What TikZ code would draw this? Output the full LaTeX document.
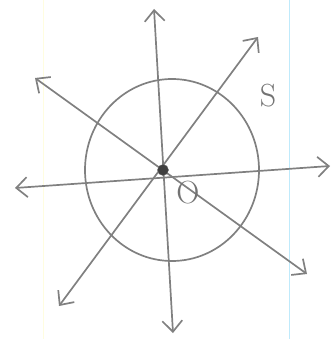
\documentclass[tikz,border=0pt]{standalone}
\usetikzlibrary{arrows.meta,positioning}
\tikzset{
    sketch/.style   = {x=1pt, y=-1pt, >={Straight Barb[length=11pt, width=20pt]}},
    pencil/.style   = {draw=black!50, line width=1.7pt, line cap=round},
    ray/.style      = {pencil, <->},
    origin/.style   = {circle, fill=black!75, draw=black!60, inner sep=0pt,
                       minimum size=11pt},
    mark text/.style = {text=black!55, inner sep=0pt,
                        font=\fontsize{32}{32}\selectfont}
}
\begin{document}
\begin{tikzpicture}[sketch]

\useasboundingbox (0,0) rectangle (332,339);

% paper edges
\draw[yellow!12, line width=1pt] (43,0) -- (43,339);
\draw[cyan!25, line width=0.8pt] (289,0) -- (289,339);

% the circle
\draw[pencil] (172,170) ellipse [x radius=87, y radius=91];

% ends of the rays
\coordinate (up)    at (154,9);
\coordinate (down)  at (173,333);
\coordinate (ne)    at (258,37);
\coordinate (sw)    at (59,306);
\coordinate (nw)    at (35,78);
\coordinate (se)    at (307,274);
\coordinate (east)  at (330,166);
\coordinate (west)  at (15,188);

\draw[ray] (down) -- (up);
\draw[ray] (sw) -- (ne);
\draw[ray] (se) -- (nw);
\draw[ray] (west) -- (east);

\node[origin] (o) at (163,170) {};

\node[mark text] (s) at (268,96) {S};
\node[mark text] (theta) at (188,193) {O};

\end{tikzpicture}
\end{document}
